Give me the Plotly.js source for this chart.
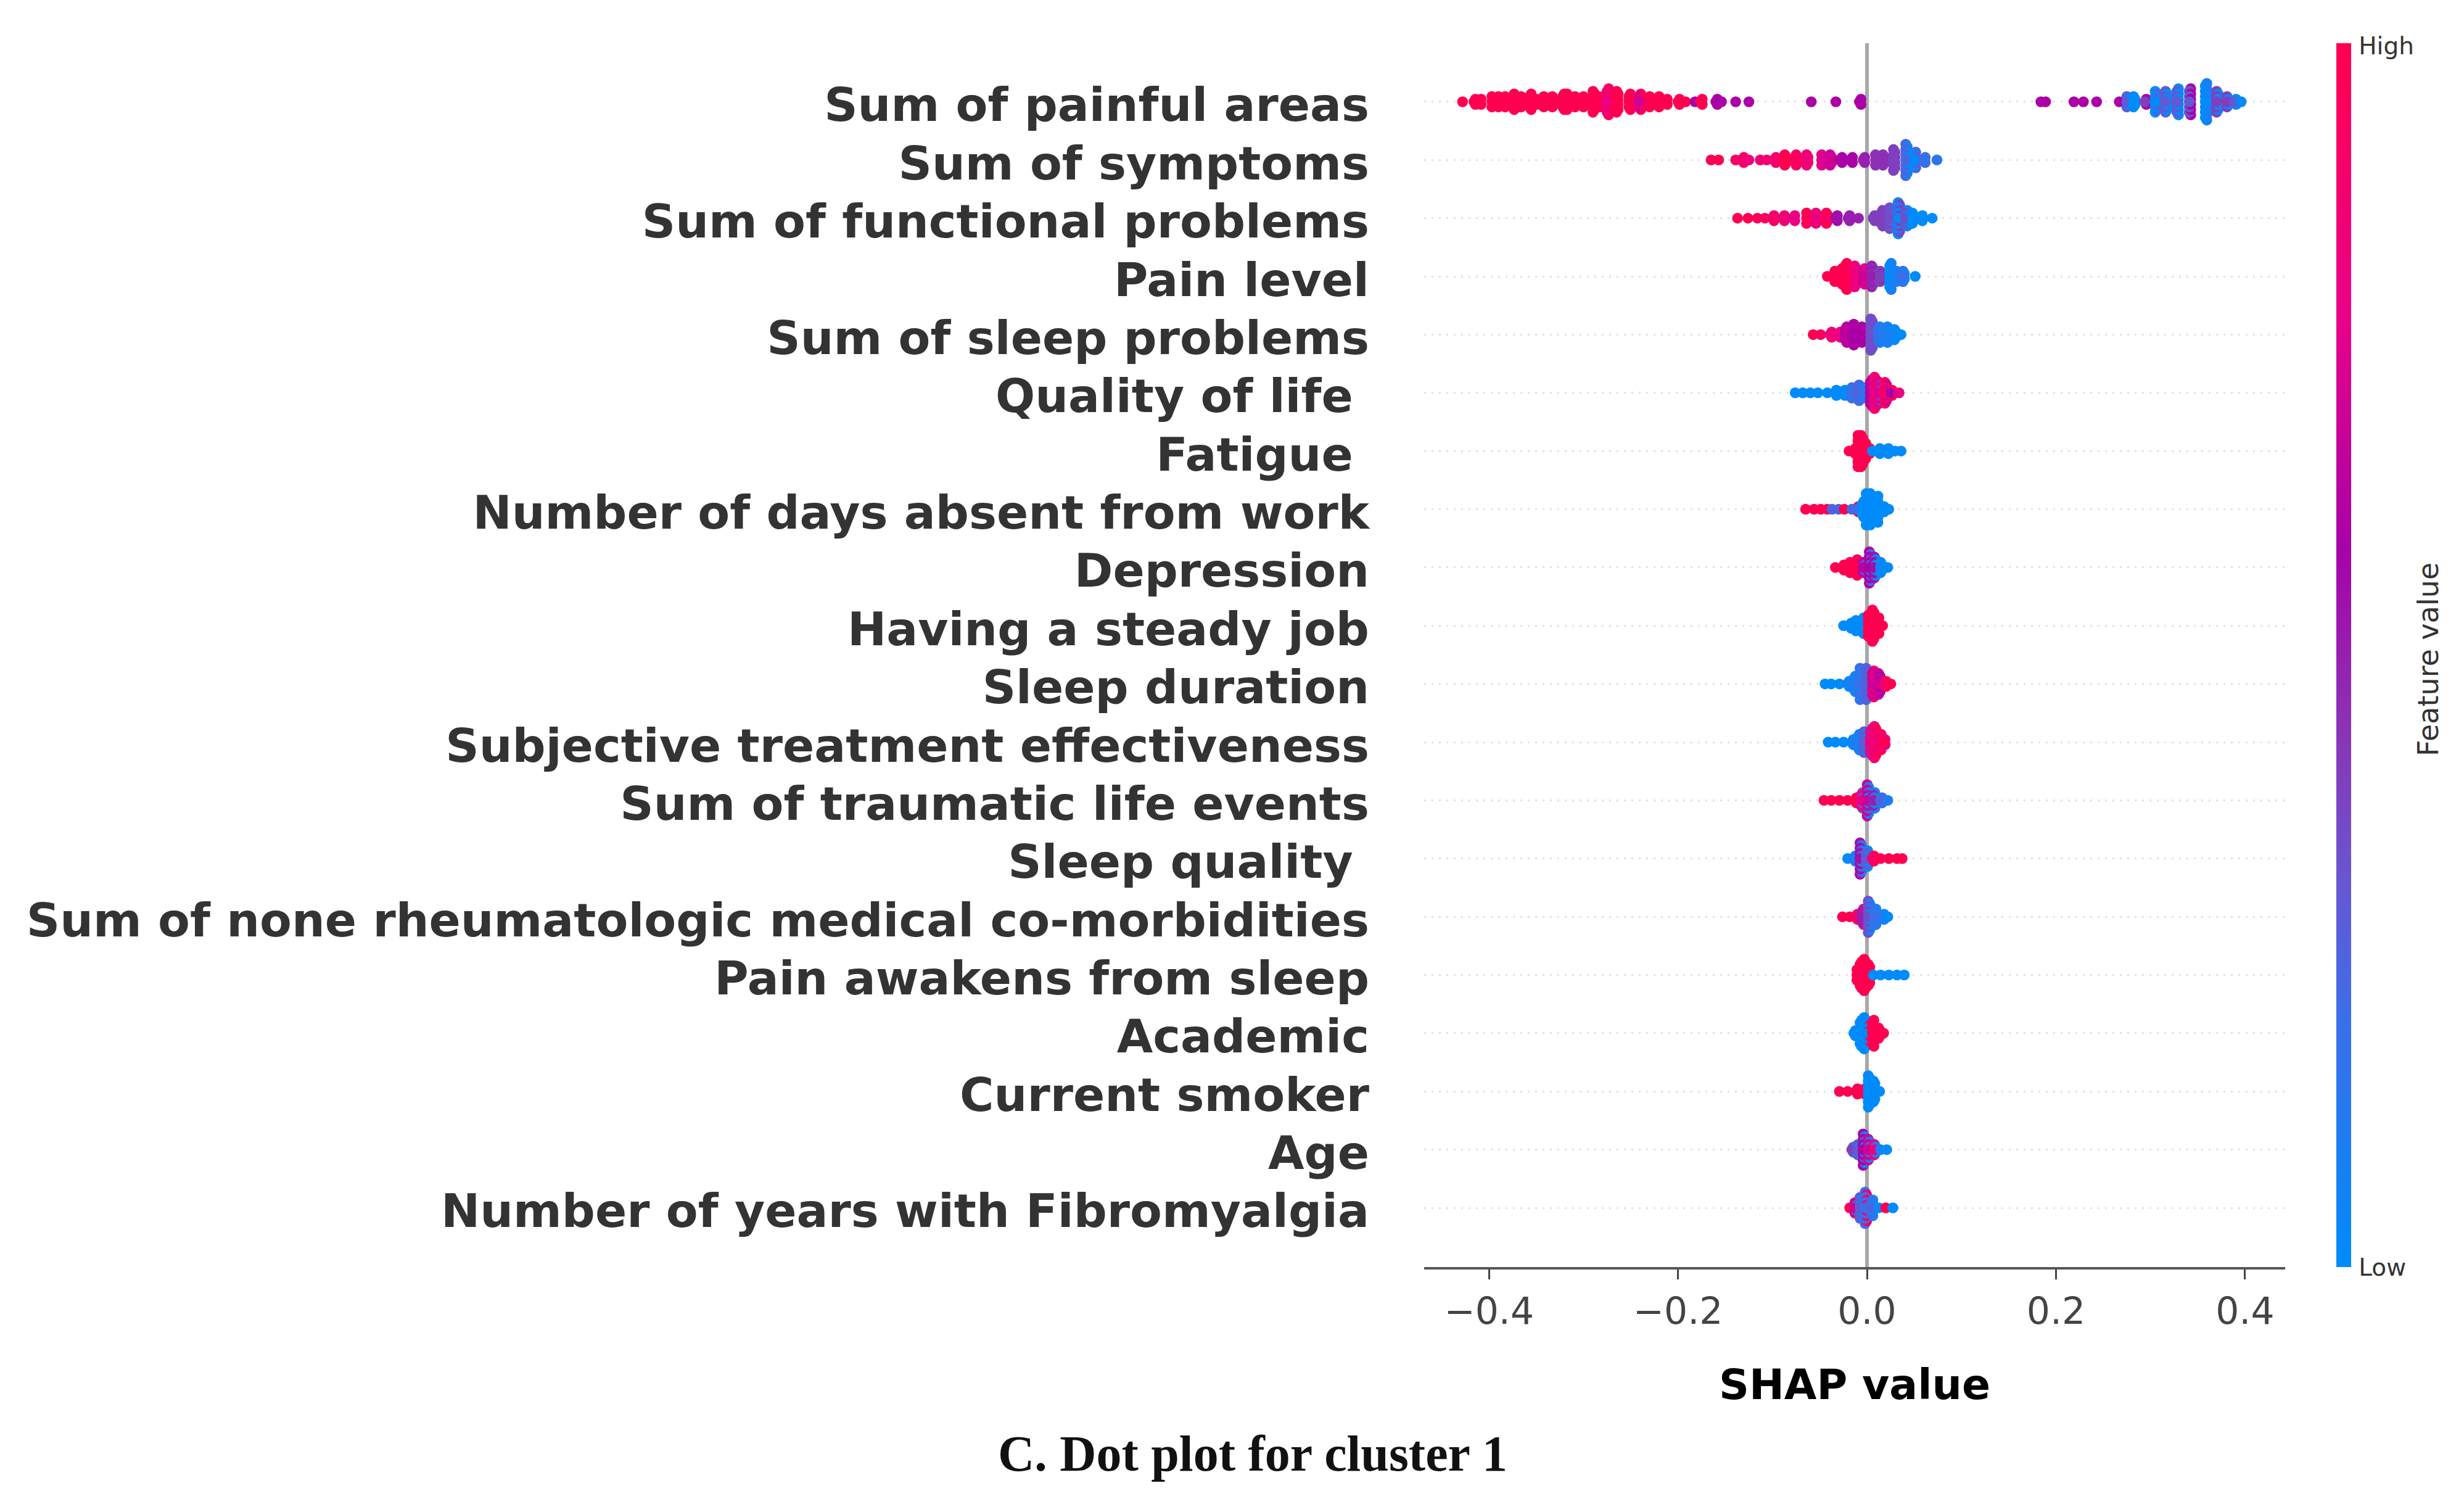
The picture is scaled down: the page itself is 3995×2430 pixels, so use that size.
<!DOCTYPE html>
<html>
<head>
<meta charset="utf-8">
<script src="https://cdn.plot.ly/plotly-3.0.1.min.js"></script>
<style>html,body{margin:0;padding:0;background:#fff}</style>
</head>
<body>
<div id="chart" style="width:3995px;height:2430px"></div>
<script>
const features = ["Sum of painful areas","Sum of symptoms","Sum of functional problems","Pain level","Sum of sleep problems","Quality of life\u00a0","Fatigue\u00a0","Number of days absent from work","Depression","Having a steady job","Sleep duration","Subjective treatment effectiveness","Sum of traumatic life events","Sleep quality\u00a0","Sum of none rheumatologic medical co-morbidities","Pain awakens from sleep","Academic","Current smoker","Age","Number of years with Fibromyalgia"];
const xTicks = [-0.4,-0.2,0,0.2,0.4];

// Each feature: SHAP value of a swarm column, dots in the column, feature value of alternating dots
const painfulX = [-0.428,-0.416,-0.410,-0.397,-0.390,-0.383,-0.375,-0.366,-0.357,-0.351,-0.342,-0.333,-0.322,-0.319,-0.309,-0.300,-0.290,-0.283,-0.275,-0.265,-0.252,-0.241,-0.230,-0.220,-0.213,-0.200,-0.192,-0.182,-0.176,-0.160,-0.154,-0.139,-0.125,-0.059,-0.033,-0.008,0.184,0.189,0.219,0.229,0.243,0.267,0.275,0.282,0.294,0.305,0.316,0.328,0.341,0.358,0.370,0.381,0.389,0.396];
const painfulN = [1,3,3,5,5,5,7,5,7,3,5,5,7,7,5,5,9,5,11,9,7,7,5,5,3,3,1,1,3,3,1,1,1,1,1,3,1,1,1,1,1,1,5,5,3,9,9,11,11,15,9,5,3,1];
const painfulC = [1,1,1,1,1,1,1,1,1,1,1,1,1,1,1,1,1,1,0.8,1,1,0.7,1,1,1,1,1,0.6,1,0.6,0.6,0.6,0.6,0.6,0.6,0.6,0.6,0.6,0.6,0.6,0.6,0.6,0.3,0,0.4,0,0.3,0.3,0.3,0,0.4,0.4,0.3,0];
const painfulD = [1,1,1,1,1,1,1,1,1,1,1,1,1,1,1,1,1,1,1,1,1,1,1,1,1,1,1,0.6,1,0.6,0.6,0.6,0.6,0.6,0.6,0.6,0.6,0.6,0.6,0.6,0.6,0.6,0,0,0.6,0.25,0,0,0.6,0.1,0.05,0.1,0.05,0.1];

const symptomsX = [-0.165,-0.157,-0.139,-0.132,-0.125,-0.113,-0.106,-0.098,-0.087,-0.075,-0.064,-0.048,-0.039,-0.028,-0.017,-0.004,0.009,0.017,0.028,0.041,0.050,0.060,0.074];
const symptomsN = [1,1,1,3,1,1,1,3,5,5,5,5,5,3,3,3,5,5,9,13,7,3,1];
const symptomsC = [1,1,0.9,0.9,0.85,0.85,0.85,0.9,1,0.95,0.85,0.75,0.7,0.6,0.6,0.5,0.45,0.45,0.4,0.25,0,0.2,0.15];
const symptomsD = [1,1,0.9,0.9,0.85,0.85,0.85,0.9,1,0.95,0.85,0.75,0.7,0.6,0.6,0.5,0.45,0.45,0.4,0.05,0.25,0.2,0.15];

const functionalX = [-0.137,-0.126,-0.116,-0.108,-0.100,-0.089,-0.078,-0.064,-0.054,-0.043,-0.033,-0.020,-0.009,0.0065,0.015,0.024,0.033,0.041,0.048,0.057,0.069];
const functionalN = [1,1,1,1,3,3,3,5,5,5,3,3,1,3,7,9,13,7,5,3,1];
const functionalC = [1,1,0.95,0.95,0.9,0.85,0.8,1,0.8,0.95,0.55,0.5,0.5,0.4,0.4,0.35,0.05,0.35,0,0,0];
const functionalD = [1,1,0.95,0.95,0.9,0.85,0.8,1,0.9,1,0.55,0.5,0.5,0.4,0.4,0.3,0.4,0.05,0,0,0];

const painLevelX = [-0.042,-0.034,-0.028,-0.023,-0.013,-0.004,0.005,0.014,0.024,0.031,0.038,0.051];
const painLevelN = [1,5,7,11,9,7,9,5,11,5,5,1];
const painLevelC = [1,1,1,1,0.85,0.7,0.5,0.4,0,0.1,0.2,0];
const painLevelD = [1,1,1,1,0.8,0.75,0.45,0.45,0.1,0,0.05,0];

const sleepProblemsX = [-0.057,-0.049,-0.039,-0.030,-0.023,-0.014,-0.007,0.004,0.012,0.020,0.029,0.036];
const sleepProblemsN = [1,1,3,3,7,9,7,13,7,7,5,1];
const sleepProblemsC = [1,0.95,0.85,0.8,0.65,0.6,0.6,0.35,0.15,0.1,0.05,0];
const sleepProblemsD = [1,0.95,0.85,0.8,0.65,0.6,0.6,0.35,0.1,0.05,0,0];

const qualityX = [-0.076,-0.068,-0.060,-0.052,-0.042,-0.034,-0.025,-0.016,-0.010,-0.004,0.0035,0.008,0.013,0.019,0.025,0.034];
const qualityN = [1,1,1,1,1,3,3,5,7,5,11,13,9,9,3,1];
const qualityC = [0,0,0,0,0,0,0,0.2,0.25,0.2,0.6,0.8,0.75,0.95,0.6,0.8];
const qualityD = [0,0,0,0,0,0,0,0.05,0.2,0.05,0.85,1,0.4,0.7,1,1];

const fatigueX = [-0.019,-0.014,-0.0096,-0.0063,-0.003,0.0013,0.0057,0.012,0.021,0.0296,0.036];
const fatigueN = [1,3,13,13,7,3,1,3,3,1,1];
const fatigueC = [1,1,1,1,1,1,0,0,0,0,0];
const fatigueD = [1,1,1,1,1,1,0,0,0,0,0];

const absentX = [-0.065,-0.056,-0.049,-0.042,-0.037,-0.030,-0.024,-0.016,-0.0107,-0.005,-0.0009,0.0035,0.010,0.0165,0.023];
const absentN = [1,1,1,1,1,1,1,1,3,7,13,13,11,3,1];
const absentC = [1,1,1,1,0.25,0.25,1,0.25,0.2,0,0,0,0,0,0];
const absentD = [1,1,1,1,1,1,1,1,1,0,0.03,0,0,0,0];

const depressionX = [-0.0335,-0.026,-0.018,-0.012,-0.004,0.0024,0.0078,0.0144,0.022];
const depressionN = [1,3,5,7,5,13,9,5,1];
const depressionC = [1,1,1,1,0.65,0.6,0.55,0.05,0];
const depressionD = [1,1,1,1,0.25,0.25,0.05,0,0];

const jobX = [-0.0248,-0.0183,-0.0117,-0.0052,0.0013,0.0057,0.011,0.0165];
const jobN = [1,3,5,7,9,13,7,1];
const jobC = [0,0,0,0,1,1,1,1];
const jobD = [0,0,0,0,1,1,1,1];

const durationX = [-0.0444,-0.0379,-0.0292,-0.0205,-0.0139,-0.0074,-0.0009,0.0057,0.0122,0.0187,0.0252];
const durationN = [1,1,1,3,7,13,13,11,9,3,1];
const durationC = [0,0,0,0.05,0.1,0.2,0.25,0.7,0.7,0.9,1];
const durationD = [0,0,0,0,0,0.05,0.3,0.9,0.6,1,1];

const effectivenessX = [-0.0411,-0.0335,-0.0248,-0.0161,-0.0096,-0.003,0.0035,0.0078,0.0133,0.0176];
const effectivenessN = [1,1,1,3,7,9,11,13,7,3];
const effectivenessC = [0,0,0,0.05,0.1,0.3,0.8,0.85,0.85,1];
const effectivenessD = [0,0,0,0,0,0,0.4,1,1,0.8];

const traumaticX = [-0.0455,-0.0379,-0.0292,-0.0205,-0.0128,-0.0063,0.0002,0.0067,0.0144,0.022];
const traumaticN = [1,1,1,1,3,7,13,7,3,1];
const traumaticC = [1,1,1,1,1,0.8,0.7,0.5,0.25,0.1];
const traumaticD = [1,1,1,1,1,0.3,0.1,0.1,0.2,0.2];

const sleepQualityX = [-0.0205,-0.0139,-0.0074,-0.0009,0.0057,0.0144,0.0231,0.0318,0.0372];
const sleepQualityN = [1,3,13,7,3,1,1,1,1];
const sleepQualityC = [0,0.1,0.55,0.3,0.9,1,1,1,1];
const sleepQualityD = [0,0.05,0.2,0.05,1,1,1,1,1];

const comorbidX = [-0.0259,-0.0183,-0.0117,-0.0052,0.0013,0.0078,0.0165,0.022];
const comorbidN = [1,1,3,7,13,7,3,1];
const comorbidC = [1,1,0.9,0.5,0.35,0.2,0.15,0];
const comorbidD = [1,1,0.9,0.8,0.05,0.1,0.05,0];

const awakensX = [-0.0107,-0.0074,-0.003,0.0013,0.0067,0.0144,0.0231,0.0318,0.0394];
const awakensN = [5,11,13,9,1,1,1,1,1];
const awakensC = [1,1,1,1,0,0,0,0,0];
const awakensD = [1,1,1,1,0,0,0,0,0];

const academicX = [-0.0139,-0.0074,-0.003,0.0013,0.0057,0.0122,0.0176];
const academicN = [3,11,13,9,11,5,1];
const academicC = [0,0,0,0,1,1,1];
const academicD = [0,0,0,1,1,1,1];

const smokerX = [-0.0292,-0.0205,-0.0117,-0.0041,0.0013,0.0067,0.0133];
const smokerN = [1,1,3,3,13,9,1];
const smokerC = [1,1,1,1,0,0,0];
const smokerD = [1,1,1,1,0,0,0];

const ageX = [-0.0161,-0.0096,-0.0041,0.0013,0.0078,0.0144,0.0209];
const ageN = [3,5,13,9,5,1,1];
const ageC = [0.4,0.3,0.6,0.7,0.8,0.1,0];
const ageD = [0.2,0.1,0.05,0.15,0.05,0,0.1];

const yearsX = [-0.0183,-0.0128,-0.0074,-0.002,0.0046,0.0122,0.0198,0.0274];
const yearsN = [1,5,9,13,7,1,1,1];
const yearsC = [1,0.7,0.3,0.2,0.25,0.05,1,0];
const yearsD = [1,0.3,0.05,0.85,0.05,0.05,0,0];

const columns = [
  [painfulX,painfulN,painfulC,painfulD],[symptomsX,symptomsN,symptomsC,symptomsD],
  [functionalX,functionalN,functionalC,functionalD],[painLevelX,painLevelN,painLevelC,painLevelD],
  [sleepProblemsX,sleepProblemsN,sleepProblemsC,sleepProblemsD],[qualityX,qualityN,qualityC,qualityD],
  [fatigueX,fatigueN,fatigueC,fatigueD],[absentX,absentN,absentC,absentD],
  [depressionX,depressionN,depressionC,depressionD],[jobX,jobN,jobC,jobD],
  [durationX,durationN,durationC,durationD],[effectivenessX,effectivenessN,effectivenessC,effectivenessD],
  [traumaticX,traumaticN,traumaticC,traumaticD],[sleepQualityX,sleepQualityN,sleepQualityC,sleepQualityD],
  [comorbidX,comorbidN,comorbidC,comorbidD],[awakensX,awakensN,awakensC,awakensD],
  [academicX,academicN,academicC,academicD],[smokerX,smokerN,smokerC,smokerD],
  [ageX,ageN,ageC,ageD],[yearsX,yearsN,yearsC,yearsD]
];

const swarmStep = 0.045;
const swarmStagger = 0.0016;
const traces = columns.map(function(col, row){
  const xs = [], ys = [], cs = [];
  const base = features.length - 1 - row;
  col[0].forEach(function(x, i){
    const half = (col[1][i] - 1) / 2;
    for (let k = half; k >= 0; k--) {
      const tone = (k % 2 === 0) ? col[2][i] : col[3][i];
      const shift = (k % 2 === 0) ? 0 : swarmStagger;
      const sides = k === 0 ? [0] : [k, -k];
      sides.forEach(function(s){ xs.push(x + shift); ys.push(base + s * swarmStep); cs.push(tone); });
    }
  });
  return {
    type: 'scatter', mode: 'markers', x: xs, y: ys, name: features[row], showlegend: false,
    hoverinfo: 'x+name',
    marker: { size: 17.5, color: cs, coloraxis: 'coloraxis', line: { width: 0 }, opacity: 1 }
  };
});

const layout = {
  width: 3995, height: 2430, autosize: false,
  paper_bgcolor: '#ffffff', plot_bgcolor: '#ffffff',
  margin: { l: 2309, r: 290, t: 70, b: 376, pad: 0 },
  showlegend: false,
  font: { family: 'DejaVu Sans', color: '#333333' },
  xaxis: {
    range: [-0.4687, 0.4425], tickmode: 'array', tickvals: xTicks, tickformat: '.1f',
    ticks: 'outside', ticklen: 16, tickwidth: 3, tickcolor: '#444444',
    tickfont: { family: 'DejaVu Sans', size: 60, color: '#444444' },
    showgrid: false, showline: true, linecolor: '#555555', linewidth: 4,
    zeroline: true, zerolinecolor: '#a8a8a8', zerolinewidth: 6,
    title: { text: 'SHAP value', standoff: 62, font: { family: 'DejaVu Sans', size: 68, weight: 700, color: '#000000' } }
  },
  yaxis: {
    range: [-1.017, 20.006], tickmode: 'array',
    tickvals: features.map(function(f, i){ return features.length - 1 - i; }),
    ticktext: features, ticks: '', ticklabelstandoff: 88, ticklabelshift: 5,
    tickfont: { family: 'DejaVu Sans', size: 75.6, weight: 700, color: '#333333' },
    showgrid: true, gridcolor: '#e2e2e2', gridwidth: 3, griddash: '3px,9px',
    zeroline: false, showline: false
  },
  coloraxis: {
    cmin: 0, cmax: 1,
    colorscale: [[0,'#008bfb'],[0.2,'#3a6fea'],[0.32,'#6a55d0'],[0.435,'#8a35b5'],[0.59,'#a800a8'],[0.78,'#ea0088'],[1,'#ff0051']],
    colorbar: {
      x: 1.0595, xanchor: 'left', y: 0, yanchor: 'bottom', len: 1, lenmode: 'fraction',
      thickness: 24, thicknessmode: 'pixels', xpad: 0, ypad: 0, outlinewidth: 0, borderwidth: 0,
      tickmode: 'array', tickvals: [0, 0.998], ticktext: ['Low', 'High'],
      ticks: 'outside', ticklen: 5, tickcolor: 'rgba(0,0,0,0)',
      tickfont: { family: 'DejaVu Sans', size: 39, color: '#333333' }
    }
  },
  annotations: [
    { text: 'Feature value', xref: 'paper', yref: 'paper', x: 1.166, y: 0.4964, xanchor: 'center', yanchor: 'middle',
      textangle: -90, showarrow: false, font: { family: 'DejaVu Sans', size: 46, color: '#333333' } },
    { text: '<b>C. Dot plot for cluster 1</b>', xref: 'paper', yref: 'paper', x: -0.1992, y: -0.1527, xanchor: 'center', yanchor: 'middle',
      showarrow: false, font: { family: 'Liberation Serif', size: 82, color: '#111111' } }
  ]
};

Plotly.newPlot('chart', traces, layout, { displayModeBar: false, staticPlot: true });
</script>
</body>
</html>
